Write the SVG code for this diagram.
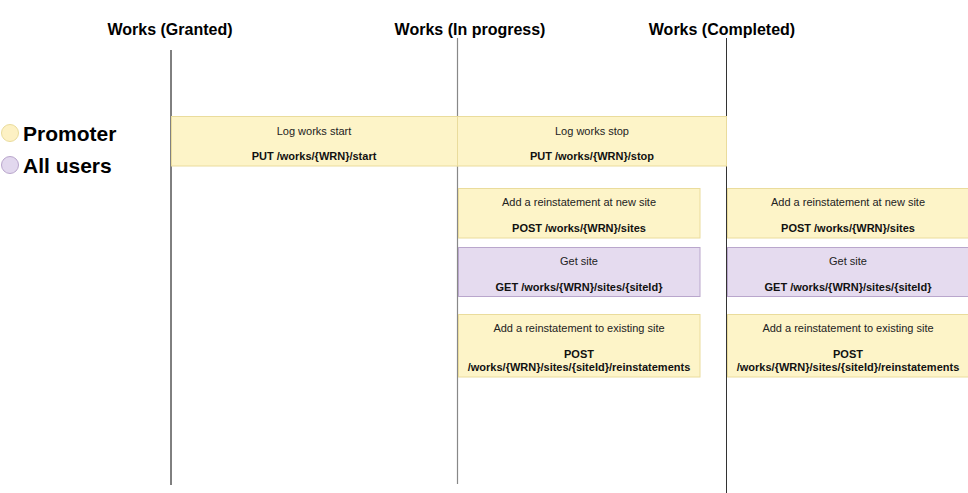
<svg xmlns="http://www.w3.org/2000/svg" width="968" height="493" viewBox="0 0 968 493">
<style>
.hdr{font-family:"Liberation Sans",Arial,sans-serif;font-size:16px;font-weight:bold;fill:#000;text-anchor:middle}
.leg{font-family:"Liberation Sans",Arial,sans-serif;font-size:21px;font-weight:bold;fill:#000}
.t{font-family:"Liberation Sans",Arial,sans-serif;font-size:11px;fill:#222;text-anchor:middle}
.b{font-family:"Liberation Sans",Arial,sans-serif;font-size:11px;font-weight:bold;fill:#111;text-anchor:middle}
.y{fill:#fdf4c8;stroke:#eadc9c;stroke-width:1}
.p{fill:#e5dbef;stroke:#b9a6cc;stroke-width:1}
</style>
<rect width="968" height="493" fill="#fff"/>
<g id="headers">
<text class="hdr" x="170" y="35">Works (Granted)</text>
<text class="hdr" x="470" y="35">Works (In progress)</text>
<text class="hdr" x="722" y="35">Works (Completed)</text>
</g>
<g id="legend">
<circle cx="10" cy="133" r="8.5" fill="#fdf1c4" stroke="#eadc9c"/>
<text class="leg" x="23" y="141">Promoter</text>
<circle cx="10" cy="165" r="8.5" fill="#e2d8ee" stroke="#b9a6cc"/>
<text class="leg" x="23" y="173">All users</text>
</g>
<g id="connectors">
<line x1="171" y1="50" x2="171" y2="485" stroke="#000" stroke-width="1"/>
<line x1="457.5" y1="38" x2="457.5" y2="484" stroke="#888" stroke-width="1.2"/>
<line x1="726.5" y1="38" x2="726.5" y2="493" stroke="#333" stroke-width="1"/>
</g>
<g id="log-start">
<rect class="y" x="171.5" y="116.5" width="286" height="49.5"/>
<text class="t" x="314" y="135">Log works start</text>
<text class="b" x="314" y="160">PUT /works/{WRN}/start</text>
</g>
<g id="log-stop">
<rect class="y" x="457.5" y="116.5" width="269" height="49.5"/>
<text class="t" x="592" y="135">Log works stop</text>
<text class="b" x="592" y="160">PUT /works/{WRN}/stop</text>
</g>
<g id="new-site-1">
<rect class="y" x="458.5" y="188.5" width="241.5" height="49.5"/>
<text class="t" x="579" y="206">Add a reinstatement at new site</text>
<text class="b" x="579" y="232">POST /works/{WRN}/sites</text>
</g>
<g id="get-site-1">
<rect class="p" x="458.5" y="247.5" width="241.5" height="49"/>
<text class="t" x="579" y="265">Get site</text>
<text class="b" x="579" y="291">GET /works/{WRN}/sites/{siteId}</text>
</g>
<g id="existing-site-1">
<rect class="y" x="458.5" y="314.5" width="241.5" height="62.5"/>
<text class="t" x="579" y="332">Add a reinstatement to existing site</text>
<text class="b" x="579" y="358">POST</text>
<text class="b" x="579" y="371">/works/{WRN}/sites/{siteId}/reinstatements</text>
</g>
<g id="new-site-2">
<rect class="y" x="727.5" y="188.5" width="241" height="49.5"/>
<text class="t" x="848" y="206">Add a reinstatement at new site</text>
<text class="b" x="848" y="232">POST /works/{WRN}/sites</text>
</g>
<g id="get-site-2">
<rect class="p" x="727.5" y="247.5" width="241" height="49"/>
<text class="t" x="848" y="265">Get site</text>
<text class="b" x="848" y="291">GET /works/{WRN}/sites/{siteId}</text>
</g>
<g id="existing-site-2">
<rect class="y" x="727.5" y="314.5" width="241" height="62.5"/>
<text class="t" x="848" y="332">Add a reinstatement to existing site</text>
<text class="b" x="848" y="358">POST</text>
<text class="b" x="848" y="371">/works/{WRN}/sites/{siteId}/reinstatements</text>
</g>
</svg>
